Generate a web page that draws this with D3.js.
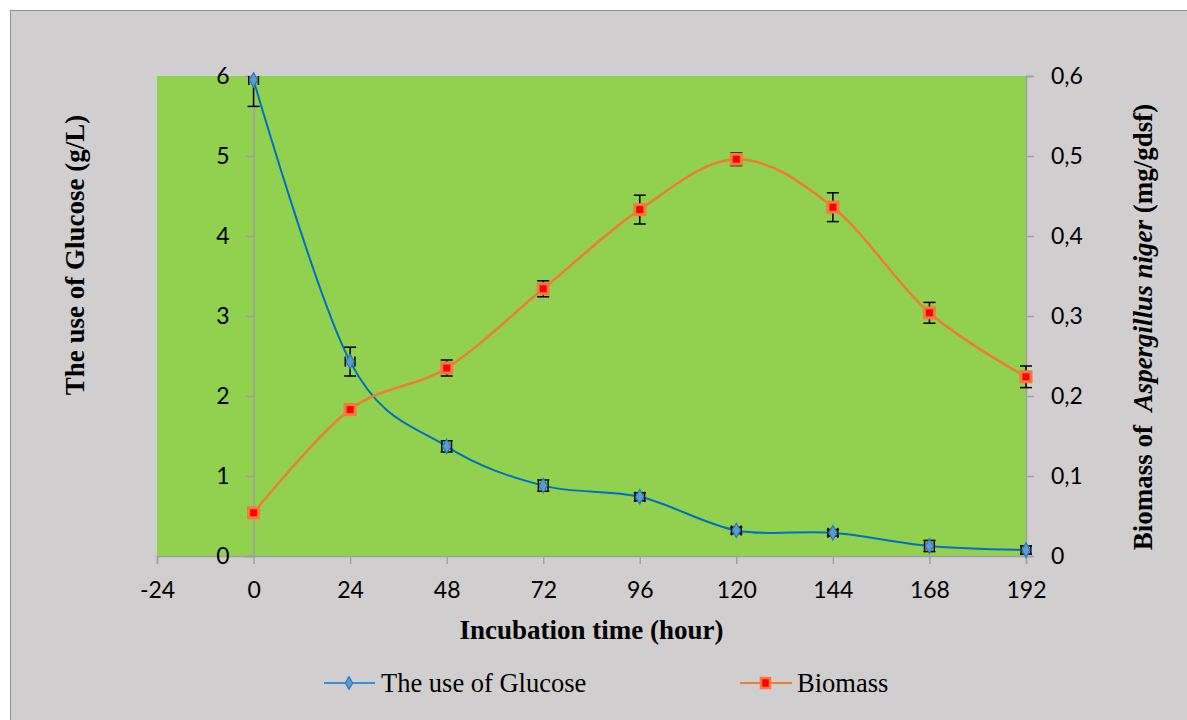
<!DOCTYPE html>
<html>
<head>
<meta charset="utf-8">
<script src="https://cdn.jsdelivr.net/npm/d3@7"></script>
<style>
  body { margin: 0; background: #fff; }
  svg { display: block; }
</style>
</head>
<body>
<div id="chart"></div>
<script>
// incubation hours
const hours = [0, 24, 48, 72, 96, 120, 144, 168, 192];
// glucose use (g/L), left axis
const glucose = [5.95, 2.43, 1.37, 0.88, 0.74, 0.32, 0.29, 0.125, 0.075];
const glucoseErr = [0.33, 0.18, 0.07, 0.07, 0.05, 0.04, 0.04, 0.07, 0.05];
// biomass of A. niger (mg/gdsf), right axis
const biomass = [0.054, 0.183, 0.235, 0.334, 0.433, 0.496, 0.436, 0.304, 0.224];
const biomassErr = [0.006, 0.005, 0.01, 0.01, 0.018, 0.008, 0.018, 0.013, 0.0135];

const xTicks = [-24, 0, 24, 48, 72, 96, 120, 144, 168, 192];
const yLeftTicks = [0, 1, 2, 3, 4, 5, 6];
const yRightTicks = [0, 0.1, 0.2, 0.3, 0.4, 0.5, 0.6];

const width = 1187, height = 720;
const plot = { left: 157, right: 1026, top: 76, bottom: 556 };

const svg = d3.select("#chart").append("svg")
  .attr("width", width).attr("height", height);

// chart frame
svg.append("rect")
  .attr("x", 10.5).attr("y", 10.5)
  .attr("width", width).attr("height", height)
  .attr("fill", "#d0cece").attr("stroke", "#8f8f8f").attr("stroke-width", 1);

const x = d3.scaleLinear().domain([-24, 192]).range([plot.left, plot.right]);
const yL = d3.scaleLinear().domain([0, 6]).range([plot.bottom, plot.top]);
const yR = d3.scaleLinear().domain([0, 0.6]).range([plot.bottom, plot.top]);

svg.append("rect")
  .attr("x", plot.left).attr("y", plot.top)
  .attr("width", plot.right - plot.left).attr("height", plot.bottom - plot.top)
  .attr("fill", "#92d050");

svg.append("clipPath").attr("id", "clip")
  .append("rect")
  .attr("x", plot.left - 10).attr("y", plot.top)
  .attr("width", plot.right - plot.left + 20).attr("height", plot.bottom - plot.top + 10);

const axisColor = "#a0a0a0";
const tickFont = "Lato, 'Open Sans', sans-serif";
const tickSize = 23;

function styleAxis(ax) {
  ax.select(".domain").attr("stroke", axisColor).attr("stroke-width", 1.5);
  ax.selectAll(".tick line").attr("stroke", axisColor).attr("stroke-width", 1.5);
  ax.selectAll("text").attr("font-family", tickFont).attr("font-size", tickSize).attr("fill", "#000");
}

// bottom axis
const xAxis = svg.append("g")
  .attr("transform", `translate(0,${plot.bottom})`)
  .call(d3.axisBottom(x).tickValues(xTicks).tickSize(8).tickPadding(18).tickFormat(d => String(d)));
styleAxis(xAxis);

// left axis crosses at hour 0
const yAxisL = svg.append("g")
  .attr("transform", `translate(${x(0)},0)`)
  .call(d3.axisLeft(yL).tickValues(yLeftTicks).tickSize(8).tickPadding(16).tickFormat(d => String(d)));
styleAxis(yAxisL);

// right axis
const yAxisR = svg.append("g")
  .attr("transform", `translate(${plot.right},0)`)
  .call(d3.axisRight(yR).tickValues(yRightTicks).tickSize(8).tickPadding(17)
    .tickFormat(d => d === 0 ? "0" : d3.format(".1f")(d).replace(".", ",")));
styleAxis(yAxisR);

// axis titles
const titleFont = "'Liberation Serif', 'Times New Roman', serif";
const titleSize = 27;
svg.append("text")
  .attr("x", x(84)).attr("y", 639)
  .attr("text-anchor", "middle")
  .attr("font-family", titleFont).attr("font-weight", "bold").attr("font-size", titleSize)
  .text("Incubation time (hour)");

svg.append("text")
  .attr("transform", "translate(84,255) rotate(-90)")
  .attr("text-anchor", "middle")
  .attr("font-family", titleFont).attr("font-weight", "bold").attr("font-size", titleSize)
  .text("The use of Glucose (g/L)");

const rTitle = svg.append("text")
  .attr("transform", "translate(1152,327) rotate(-90)")
  .attr("text-anchor", "middle")
  .attr("font-family", titleFont).attr("font-weight", "bold").attr("font-size", titleSize)
  .style("white-space", "pre");
rTitle.append("tspan").text("Biomass of  ");
rTitle.append("tspan").attr("font-style", "italic").text("Aspergillus niger");
rTitle.append("tspan").text(" (mg/gdsf)");

const g = svg.append("g").attr("clip-path", "url(#clip)");

const line = (ys, yScale) => d3.line()
  .x((d, i) => x(hours[i]))
  .y(d => yScale(d))
  .curve(d3.curveCardinal.tension(0))(ys);

g.append("path")
  .attr("d", line(glucose, yL))
  .attr("fill", "none").attr("stroke", "#0070c0").attr("stroke-width", 2);
g.append("path")
  .attr("d", line(biomass, yR))
  .attr("fill", "none").attr("stroke", "#ed7d31").attr("stroke-width", 2.5);

// error bars
function errorBars(vals, errs, yScale) {
  const eg = g.append("g").attr("stroke", "#000").attr("stroke-width", 1.5);
  vals.forEach((v, i) => {
    const cx = x(hours[i]);
    const y1 = yScale(v + errs[i]), y0 = yScale(v - errs[i]);
    eg.append("line").attr("x1", cx).attr("x2", cx).attr("y1", y1).attr("y2", y0);
    eg.append("line").attr("x1", cx - 6).attr("x2", cx + 6).attr("y1", y1).attr("y2", y1);
    eg.append("line").attr("x1", cx - 6).attr("x2", cx + 6).attr("y1", y0).attr("y2", y0);
    // short horizontal error caps
    const xl = x(hours[i] - 1.2), xr = x(hours[i] + 1.2);
    eg.append("line").attr("x1", xl).attr("x2", xr).attr("y1", yScale(v)).attr("y2", yScale(v)).attr("stroke-width", 1);
    eg.append("line").attr("x1", xl).attr("x2", xl).attr("y1", yScale(v) - 5).attr("y2", yScale(v) + 5);
    eg.append("line").attr("x1", xr).attr("x2", xr).attr("y1", yScale(v) - 5).attr("y2", yScale(v) + 5);
  });
}
errorBars(glucose, glucoseErr, yL);
errorBars(biomass, biomassErr, yR);

// markers
const diamond = d3.symbol().type(d3.symbolDiamond).size(60);
svg.append("g").selectAll("path")
  .data(glucose)
  .join("path")
  .attr("d", diamond)
  .attr("transform", (d, i) => `translate(${x(hours[i])},${yL(d)})`)
  .attr("fill", "#5b9bd5").attr("stroke", "#2e75b6").attr("stroke-width", 1.2);

svg.append("g").selectAll("rect")
  .data(biomass)
  .join("rect")
  .attr("x", (d, i) => x(hours[i]) - 5)
  .attr("y", d => yR(d) - 5)
  .attr("width", 10).attr("height", 10)
  .attr("fill", "#ff0000").attr("stroke", "#f4793a").attr("stroke-width", 3);

// legend
const legend = svg.append("g").attr("font-family", titleFont).attr("font-size", 26.5);
const ly = 683;
legend.append("line").attr("x1", 324).attr("x2", 375).attr("y1", ly).attr("y2", ly)
  .attr("stroke", "#3a8fd6").attr("stroke-width", 2);
legend.append("path").attr("d", d3.symbol().type(d3.symbolDiamond).size(45))
  .attr("transform", `translate(349,${ly})`)
  .attr("fill", "#5b9bd5").attr("stroke", "#2e75b6").attr("stroke-width", 1.2);
legend.append("text").attr("x", 381).attr("y", 692).text("The use of Glucose");

legend.append("line").attr("x1", 740).attr("x2", 792).attr("y1", ly).attr("y2", ly)
  .attr("stroke", "#ed7d31").attr("stroke-width", 2);
legend.append("rect").attr("x", 761).attr("y", ly - 5).attr("width", 9).attr("height", 10)
  .attr("fill", "#ff0000").attr("stroke", "#f4793a").attr("stroke-width", 2.5);
legend.append("text").attr("x", 797).attr("y", 692).text("Biomass");
</script>
</body>
</html>
